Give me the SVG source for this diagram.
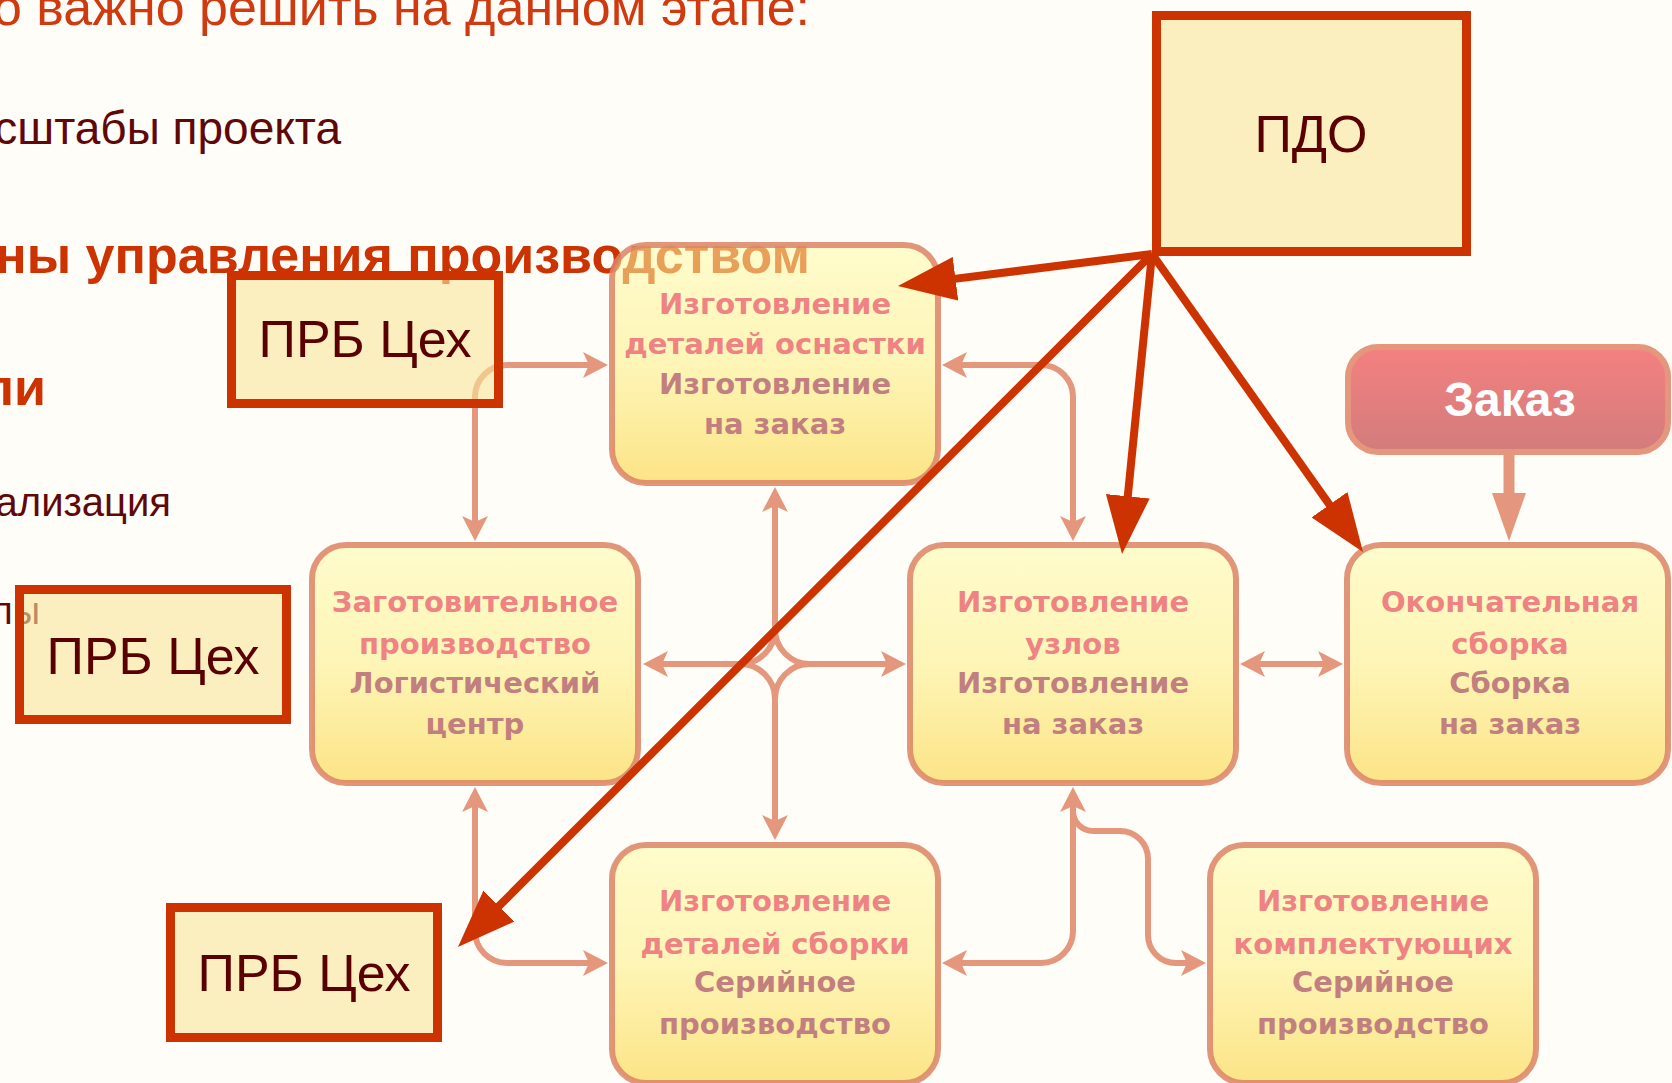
<svg xmlns="http://www.w3.org/2000/svg" width="1672" height="1083" viewBox="0 0 1672 1083">
<defs>
<style>
.title{font-family:"Liberation Sans",Arial,sans-serif;font-size:52px;fill:#CF3A10}
.body{font-family:"Liberation Sans",Arial,sans-serif;font-size:46px;fill:#600808}
.head{font-family:"Liberation Sans",Arial,sans-serif;font-size:52px;font-weight:bold;fill:#CC3300}
.node rect{fill:url(#ng);fill-opacity:.55;stroke:#DC8466;stroke-opacity:.85;stroke-width:6}
.nt{font-family:"DejaVu Sans",Verdana,sans-serif;font-size:29px;font-weight:bold;text-anchor:middle}
.l1{fill:#EF8282}
.l2{fill:#C27F7F}
.conn{fill:none;stroke:#E4977D;stroke-width:6}
.bi{marker-start:url(#ah);marker-end:url(#ah)}
.one{marker-end:url(#ah)}
.prb rect{fill:#F8E69B;fill-opacity:.6;stroke:#CC3300;stroke-width:9}
.box text{font-family:"Liberation Sans",Arial,sans-serif;font-size:52px;fill:#5A0000;text-anchor:middle}
.red{stroke:#CC3300;stroke-width:8;fill:none;marker-end:url(#rah)}
</style>
<linearGradient id="ng" x1="0" y1="0" x2="0" y2="1">
<stop offset="0" stop-color="#FFFBA8"/>
<stop offset="0.5" stop-color="#FDEE80"/>
<stop offset="1" stop-color="#FAD02A"/>
</linearGradient>
<linearGradient id="zg" x1="0" y1="0" x2="0" y2="1">
<stop offset="0" stop-color="#F58080"/>
<stop offset="1" stop-color="#D27C7C"/>
</linearGradient>
<marker id="ah" markerUnits="userSpaceOnUse" markerWidth="25" markerHeight="26" viewBox="0 0 25 26" refX="9" refY="13" orient="auto-start-reverse">
<path d="M0,0 L25,13 L0,26 L6,13 z" fill="#E4977D"/>
</marker>
<marker id="rah" markerUnits="userSpaceOnUse" markerWidth="58" markerHeight="44" viewBox="0 0 58 44" refX="13" refY="22" orient="auto">
<path d="M0,0 L58,22 L0,44 z" fill="#CC3300"/>
</marker>
<marker id="zah" markerUnits="userSpaceOnUse" markerWidth="48" markerHeight="34" viewBox="0 0 48 34" refX="8" refY="17" orient="auto">
<path d="M0,0 L48,17 L0,34 z" fill="#E4977D"/>
</marker>
</defs>
<rect width="1672" height="1083" fill="#FEFDF8"/>
<g id="slide-text">
<text class="title" x="810" y="25" text-anchor="end">о важно решить на данном этапе:</text>
<text class="body" x="341" y="144" text-anchor="end">сштабы проекта</text>
<text class="head" x="810" y="273" text-anchor="end">ны управления производством</text>
<text class="head" x="46" y="405" text-anchor="end">ли</text>
<text class="body" x="171" y="516" text-anchor="end" style="font-size:40px">ализация</text>
<text class="body" x="40" y="624" text-anchor="end" style="font-size:38px">лы</text>
</g>
<g id="connectors">
<path class="conn bi" d="M475,525 V397 A32,32 0 0 1 507,365 H592"/>
<path class="conn bi" d="M958,365 H1041 A32,32 0 0 1 1073,397 V525"/>
<path class="conn bi" d="M775,503 V629 A35,35 0 0 0 810,664 H890"/>
<path class="conn bi" d="M659,664 H740 A35,35 0 0 1 775,699 V824"/>
<path class="conn" d="M775,629 A35,35 0 0 1 740,664 M810,664 A35,35 0 0 0 775,699"/>
<path class="conn bi" d="M475,803 V931 A32,32 0 0 0 507,963 H592"/>
<path class="conn bi" d="M958,963 H1041 A32,32 0 0 0 1073,931 V803"/>
<path class="conn one" d="M1073,811 A20,20 0 0 0 1093,831 H1120 A28,28 0 0 1 1148,859 V935 A28,28 0 0 0 1176,963 H1190"/>
<path class="conn bi" d="M1256,664 H1327"/>
<path d="M1509,452 V501" fill="none" stroke="#E4977D" stroke-width="11" marker-end="url(#zah)"/>
</g>
<g id="node-osnastka" class="node">
<rect x="612" y="245" width="326" height="238" rx="34"/>
<text class="nt l1" x="775" y="314">Изготовление</text>
<text class="nt l1" x="775" y="354">деталей оснастки</text>
<text class="nt l2" x="775" y="394">Изготовление</text>
<text class="nt l2" x="775" y="434">на заказ</text>
</g>
<g id="node-zagotovka" class="node">
<rect x="312" y="545" width="326" height="238" rx="34"/>
<text class="nt l1" x="475" y="612">Заготовительное</text>
<text class="nt l1" x="475" y="654">производство</text>
<text class="nt l2" x="475" y="693">Логистический</text>
<text class="nt l2" x="475" y="734">центр</text>
</g>
<g id="node-uzly" class="node">
<rect x="910" y="545" width="326" height="238" rx="34"/>
<text class="nt l1" x="1073" y="612">Изготовление</text>
<text class="nt l1" x="1073" y="654">узлов</text>
<text class="nt l2" x="1073" y="693">Изготовление</text>
<text class="nt l2" x="1073" y="734">на заказ</text>
</g>
<g id="node-sborka" class="node">
<rect x="1347" y="545" width="321" height="238" rx="34"/>
<text class="nt l1" x="1510" y="612">Окончательная</text>
<text class="nt l1" x="1510" y="654">сборка</text>
<text class="nt l2" x="1510" y="693">Сборка</text>
<text class="nt l2" x="1510" y="734">на заказ</text>
</g>
<g id="node-detali-sborki" class="node">
<rect x="612" y="845" width="326" height="238" rx="34"/>
<text class="nt l1" x="775" y="911">Изготовление</text>
<text class="nt l1" x="775" y="954">деталей сборки</text>
<text class="nt l2" x="775" y="992">Серийное</text>
<text class="nt l2" x="775" y="1034">производство</text>
</g>
<g id="node-komplekt" class="node">
<rect x="1210" y="845" width="326" height="238" rx="34"/>
<text class="nt l1" x="1373" y="911">Изготовление</text>
<text class="nt l1" x="1373" y="954">комплектующих</text>
<text class="nt l2" x="1373" y="992">Серийное</text>
<text class="nt l2" x="1373" y="1034">производство</text>
</g>
<g id="node-zakaz">
<rect x="1348" y="347" width="320" height="105" rx="30" fill="url(#zg)" stroke="#E4977D" stroke-width="6"/>
<text x="1510" y="416" text-anchor="middle" font-family="Liberation Sans, Arial, sans-serif" font-size="48" font-weight="bold" fill="#FFFFFF">Заказ</text>
</g>
<g id="prb-1" class="box prb">
<rect x="231.5" y="275.5" width="267" height="128"/>
<text x="365" y="357">ПРБ Цех</text>
</g>
<g id="prb-2" class="box prb">
<rect x="19.5" y="589.5" width="267" height="130"/>
<text x="153" y="674">ПРБ Цех</text>
</g>
<g id="prb-3" class="box prb">
<rect x="170.5" y="907.5" width="267" height="130"/>
<text x="304" y="991">ПРБ Цех</text>
</g>
<g id="pdo" class="box">
<rect x="1156.5" y="15.5" width="310" height="236" fill="#FBEFC0" stroke="#CC3300" stroke-width="9"/>
<text x="1311" y="152">ПДО</text>
</g>
<g id="pdo-arrows">
<line class="red" x1="1152" y1="254" x2="942.6" y2="280.4"/>
<line class="red" x1="1152" y1="254" x2="489.8" y2="915.2"/>
<line class="red" x1="1152" y1="254" x2="1126.5" y2="509.2"/>
<line class="red" x1="1152" y1="254" x2="1337" y2="515.3"/>
</g>
</svg>
